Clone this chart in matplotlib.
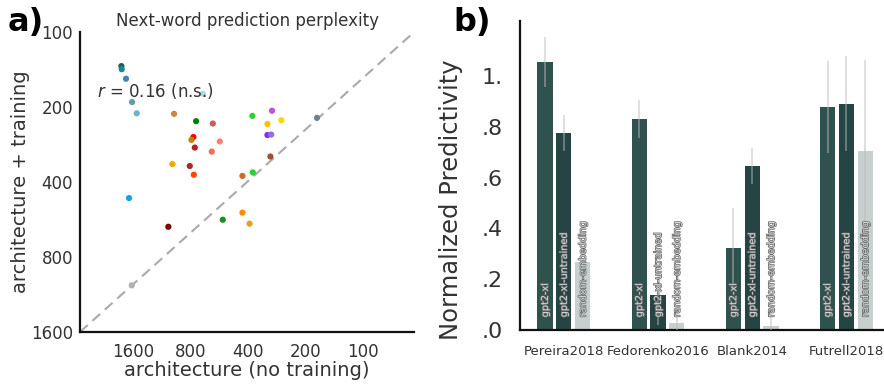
import numpy as np
import matplotlib
matplotlib.use("Agg")
import matplotlib.pyplot as plt
import matplotlib.patheffects as pe
from matplotlib.ticker import NullLocator

plt.rcParams['font.family'] = ['DejaVu Sans']

# --- panel a: perplexity of untrained vs trained architectures ---
ppl_untrained = [1835, 1827, 1735, 688, 1613, 1525, 973, 746, 610, 379, 299,
                 316, 267, 174, 316, 302, 771, 789, 561, 758, 618, 305, 993,
                 805, 767, 427, 377, 1673, 427, 541, 392, 1042, 1619]
ppl_trained = [137, 141, 154, 177, 191, 212, 213, 228, 233, 217, 207,
               234, 226, 221, 259, 258, 264, 271, 275, 291, 302, 316, 339,
               345, 374, 378, 366, 464, 531, 567, 588, 605, 1040]
point_colors = ['#1d5c5c', '#138a8f', '#4682b4', '#add8e6', '#5f9ea0', '#6ab4cf',
                '#cd853f', '#008000', '#cd5c5c', '#32cd32', '#ba55d3', '#ffbf00',
                '#ffd700', '#708090', '#8a2be2', '#9370db', '#ff0000', '#b8860b',
                '#fa8072', '#b22222', '#f26b5b', '#a0522d', '#ffa500', '#a52a2a',
                '#ff4500', '#d2691e', '#32cd32', '#0ea5e0', '#ff8c00', '#228b22',
                '#daa520', '#800000', '#b0b0b0']
ppl_ticks = [100, 200, 400, 800, 1600]

# --- panel b: normalized predictivity per benchmark ---
datasets = ['Pereira2018', 'Fedorenko2016', 'Blank2014', 'Futrell2018']
gpt2_xl = [1.056, 0.833, 0.322, 0.879]
gpt2_xl_err = [0.10, 0.075, 0.16, 0.18]
gpt2_xl_untrained = [0.777, 0.138, 0.646, 0.892]
gpt2_xl_untrained_err = [0.07, 0.12, 0.072, 0.187]
random_embedding = [0.267, 0.029, 0.016, 0.706]
random_embedding_err = [0.0, 0.05, 0.11, 0.357]
model_names = ['gpt2-xl', 'gpt2-xl-untrained', 'random-embedding']
bar_colors = ['#2f524e', '#274444', '#c7d0cf']

text_gray = '#333333'

fig = plt.figure(figsize=(8.84, 3.86), dpi=100)

# panel a
ax = fig.add_axes([0.0905, 0.140, 0.378, 0.777])
ax.scatter(ppl_untrained, ppl_trained, c=point_colors, s=20, linewidths=0, zorder=3)
ax.plot([0, 1], [0, 1], transform=ax.transAxes, ls=(0, (5, 3)), color='#aaaaaa',
        lw=1.5, zorder=1)
ax.set_xscale('log')
ax.set_yscale('log')
ax.set_xlim(3020, 54)
ax.set_ylim(1600, 100)
ax.set_xticks(ppl_ticks)
ax.set_xticklabels([str(t) for t in ppl_ticks])
ax.set_yticks(ppl_ticks)
ax.set_yticklabels([str(t) for t in ppl_ticks])
ax.xaxis.set_minor_locator(NullLocator())
ax.yaxis.set_minor_locator(NullLocator())
ax.tick_params(axis='x', length=0, pad=8, labelsize=12, labelcolor=text_gray)
ax.tick_params(axis='y', length=0, pad=5, labelsize=12, labelcolor=text_gray)
for side in ['top', 'right']:
    ax.spines[side].set_visible(False)
for side in ['left', 'bottom']:
    ax.spines[side].set_linewidth(1.6)
    ax.spines[side].set_color('#111111')
ax.set_xlabel('architecture (no training)', fontsize=14, color=text_gray, labelpad=0)
ax.set_ylabel('architecture + training', fontsize=14, color=text_gray, labelpad=1)
ax.set_title('Next-word prediction perplexity', fontsize=12, color=text_gray, pad=4)
ax.text(0.051, 0.804, r'$r$ = 0.16 (n.s.)', transform=ax.transAxes, fontsize=12,
        color=text_gray, va='center', ha='left', zorder=4)
fig.text(0.009, 0.943, 'a)', fontsize=23, fontweight='bold', va='center', ha='left')

# panel b
bx = fig.add_axes([0.588, 0.145, 0.412, 0.801])
x = np.arange(len(datasets))
width = 0.16
step = 0.2
series = [(gpt2_xl, gpt2_xl_err), (gpt2_xl_untrained, gpt2_xl_untrained_err),
          (random_embedding, random_embedding_err)]
for i, (vals, errs) in enumerate(series):
    pos = x + (i - 1) * step
    bx.bar(pos, vals, width=width, color=bar_colors[i], zorder=2)
    bx.errorbar(pos, vals, yerr=errs, fmt='none', ecolor='#bbbbbb', alpha=0.55,
                elinewidth=1.2, capsize=0, zorder=3)
    for p in pos:
        bx.text(p, 0.05, model_names[i], rotation=90, ha='center', va='bottom',
                fontsize=7, color='#d8dcdc', zorder=4,
                path_effects=[pe.withStroke(linewidth=1.0, foreground='#666666')])

bx.set_xlim(-0.468, 3.40)
bx.set_ylim(0, 1.218)
bx.set_xticks(x)
bx.set_xticklabels(datasets)
bx.set_yticks([0, 0.2, 0.4, 0.6, 0.8, 1.0])
bx.set_yticklabels(['.0', '.2', '.4', '.6', '.8', '1.'])
bx.tick_params(axis='x', length=0, pad=11, labelsize=9.5, labelcolor=text_gray)
bx.tick_params(axis='y', length=0, pad=12, labelsize=16, labelcolor=text_gray)
for side in ['top', 'right']:
    bx.spines[side].set_visible(False)
for side in ['left', 'bottom']:
    bx.spines[side].set_linewidth(1.6)
    bx.spines[side].set_color('#111111')
bx.set_ylabel('Normalized Predictivity', fontsize=17.5, color=text_gray)
bx.yaxis.set_label_coords(-0.155, 0.42)
fig.text(0.513, 0.943, 'b)', fontsize=23, fontweight='bold', va='center', ha='left')

fig.savefig('out.png', dpi=100)
